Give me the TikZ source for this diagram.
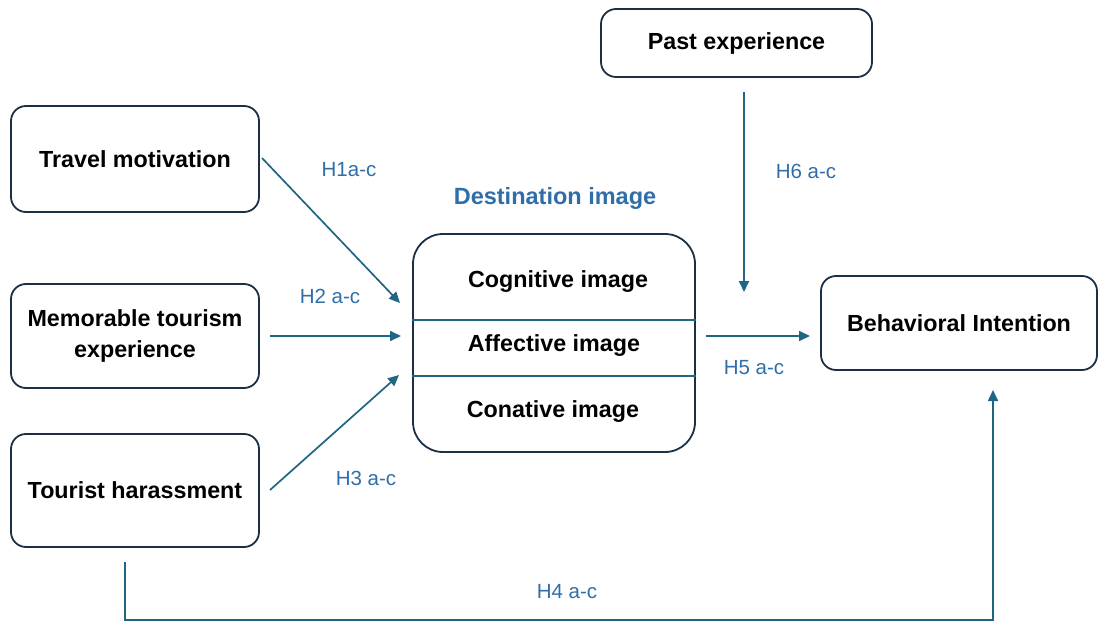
\documentclass[tikz,border=0pt]{standalone}
\usepackage{fontspec}
\setmainfont{Liberation Sans}
\usetikzlibrary{arrows.meta}
\definecolor{boxline}{HTML}{1B3045}
\definecolor{arr}{HTML}{1F6584}
\definecolor{lab}{HTML}{2F6EA8}
\begin{document}
\begin{tikzpicture}[x=1pt,y=-1pt,
  box/.style={draw=boxline,line width=1.8pt,rounded corners=15pt,fill=white,align=center,font=\fontsize{23.3}{31}\selectfont\bfseries,inner sep=0pt},
  conn/.style={draw=arr,line width=1.7pt,-{Triangle[length=11pt,width=10pt]}},
  hlab/.style={text=lab,font=\fontsize{20.5}{24}\selectfont},
  inner/.style={font=\fontsize{23.3}{27}\selectfont\bfseries}]
\useasboundingbox (0,0) rectangle (1098,623);
\node[box,minimum width=248pt,minimum height=106pt] (tm) at (135,159) {Travel motivation};
\node[box,minimum width=248pt,minimum height=104pt] (mte) at (135,336) {Memorable tourism\\experience};
\node[box,minimum width=248pt,minimum height=113pt] (th) at (135,490.5) {Tourist harassment};
\node[box,minimum width=271pt,minimum height=68pt] (pe) at (736.5,43) {Past experience};
\node[box,minimum width=276pt,minimum height=94pt] (bi) at (959,323) {Behavioral Intention};
\node[box,rounded corners=30pt,minimum width=282pt,minimum height=218pt] (di) at (554,343) {};
\draw[draw=arr,line width=1.4pt] (di.west |- 0,320) coordinate (d1l) -- (di.east |- 0,320) coordinate (d1r);
\draw[draw=arr,line width=1.4pt] (di.west |- 0,376) coordinate (d2l) -- (di.east |- 0,376) coordinate (d2r);
\node[inner] (cog) at (558,282) {Cognitive image};
\node[inner] (aff) at (554,346) {Affective image};
\node[inner] (con) at (553,412) {Conative image};
\node[text=lab,font=\fontsize{23.5}{27}\selectfont\bfseries] (dil) at (555,198) {Destination image};
% arrows
\coordinate (e1) at (400,303);
\coordinate (e2) at (401,336);
\coordinate (e3) at (399,375);
\coordinate (s1) at (262,158);
\coordinate (s2) at (270,336);
\coordinate (s3) at (270,490);
\draw[conn] (s1) -- (e1);
\draw[conn] (s2) -- (e2);
\draw[conn] (s3) -- (e3);
\coordinate (s5) at (706,336);
\coordinate (e5) at (810,336);
\draw[conn] (s5) -- (e5);
\coordinate (s6) at (744,92);
\coordinate (e6) at (744,292);
\draw[conn] (s6) -- (e6);
\coordinate (s4) at (125,562);
\coordinate (e4) at (993,390);
\draw[conn] (s4) -- (125,620) -- (993,620) -- (e4);
% labels
\node[hlab] (h1) at (349,170) {H1a-c};
\node[hlab] (h2) at (330,296) {H2 a-c};
\node[hlab] (h3) at (366,478) {H3 a-c};
\node[hlab] (h4) at (567,592) {H4 a-c};
\node[hlab] (h5) at (754,368) {H5 a-c};
\node[hlab] (h6) at (806,171) {H6 a-c};
\end{tikzpicture}
\end{document}
